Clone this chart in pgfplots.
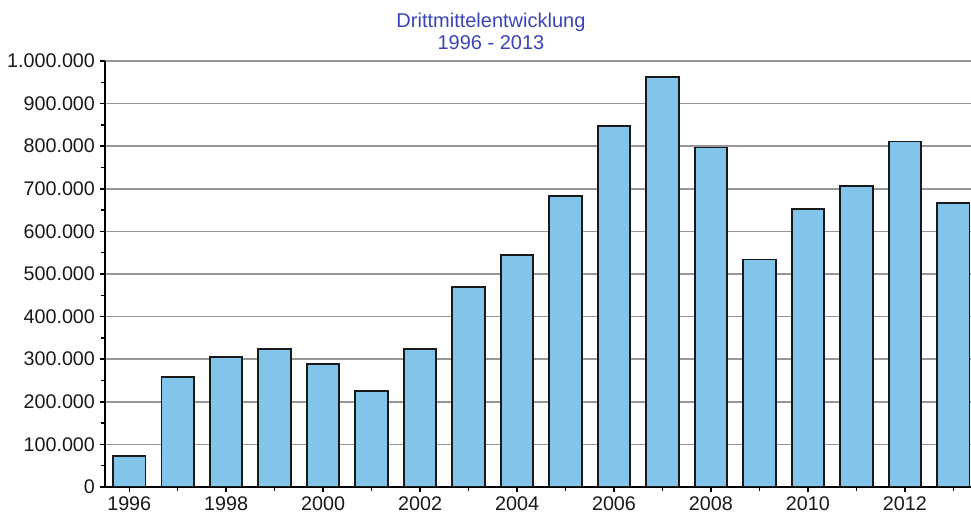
\documentclass[border=0pt]{standalone}
\usepackage{fontspec}
\setmainfont{Liberation Sans}
\usepackage{pgfplots}
\pgfplotsset{compat=1.18}
\definecolor{barblue}{RGB}{130,196,234}
\definecolor{titleblue}{RGB}{58,68,185}
\definecolor{gridgray}{RGB}{150,150,150}

\begin{document}
\begin{tikzpicture}
\useasboundingbox (-78.75pt,-22.5pt) rectangle (649.5pt,365.25pt);
\begin{axis}[
  scale only axis,
  width=649.5pt, height=319.5pt,
  ybar, bar width=0.67,
  xmin=1995.5, xmax=2013.365,
  ymin=0, ymax=1000000,
  axis x line=bottom, axis y line=left,
  axis line style={-, line width=2.2pt, black},
  ymajorgrids,
  major grid style={gridgray, line width=1.2pt},
  xtick={1996,1998,...,2012},
  minor xtick={1997,1999,...,2013},
  ytick={0,100000,...,1000000},
  minor ytick={50000,150000,...,950000},
  tick align=outside,
  tick style={black, line width=1.1pt},
  major tick length=4pt, minor tick length=3pt,
  scaled y ticks=false,
  /pgf/number format/assume math mode=true,
  tick label style={font=\fontsize{14.8}{17}\selectfont, text=black!90},
  yticklabel style={/pgf/number format/.cd, fixed, 1000 sep={.}},
  xticklabel style={/pgf/number format/.cd, 1000 sep={}},
  title={Drittmittelentwicklung\\1996 - 2013},
  title style={at={(0.4457,1)}, anchor=south, align=center, yshift=-1pt,
    font=\fontsize{15}{16.5}\selectfont, text=titleblue},
]
\addplot[fill=barblue, draw=black!90, line width=1.4pt] coordinates {
  (1996,73000) (1997,259000) (1998,305000) (1999,323000) (2000,289000)
  (2001,225000) (2002,323000) (2003,470000) (2004,545000) (2005,683000)
  (2006,848000) (2007,963000) (2008,797000) (2009,534000) (2010,652000)
  (2011,706000) (2012,811000) (2013,666000)
};
\end{axis}
\end{tikzpicture}
\end{document}
